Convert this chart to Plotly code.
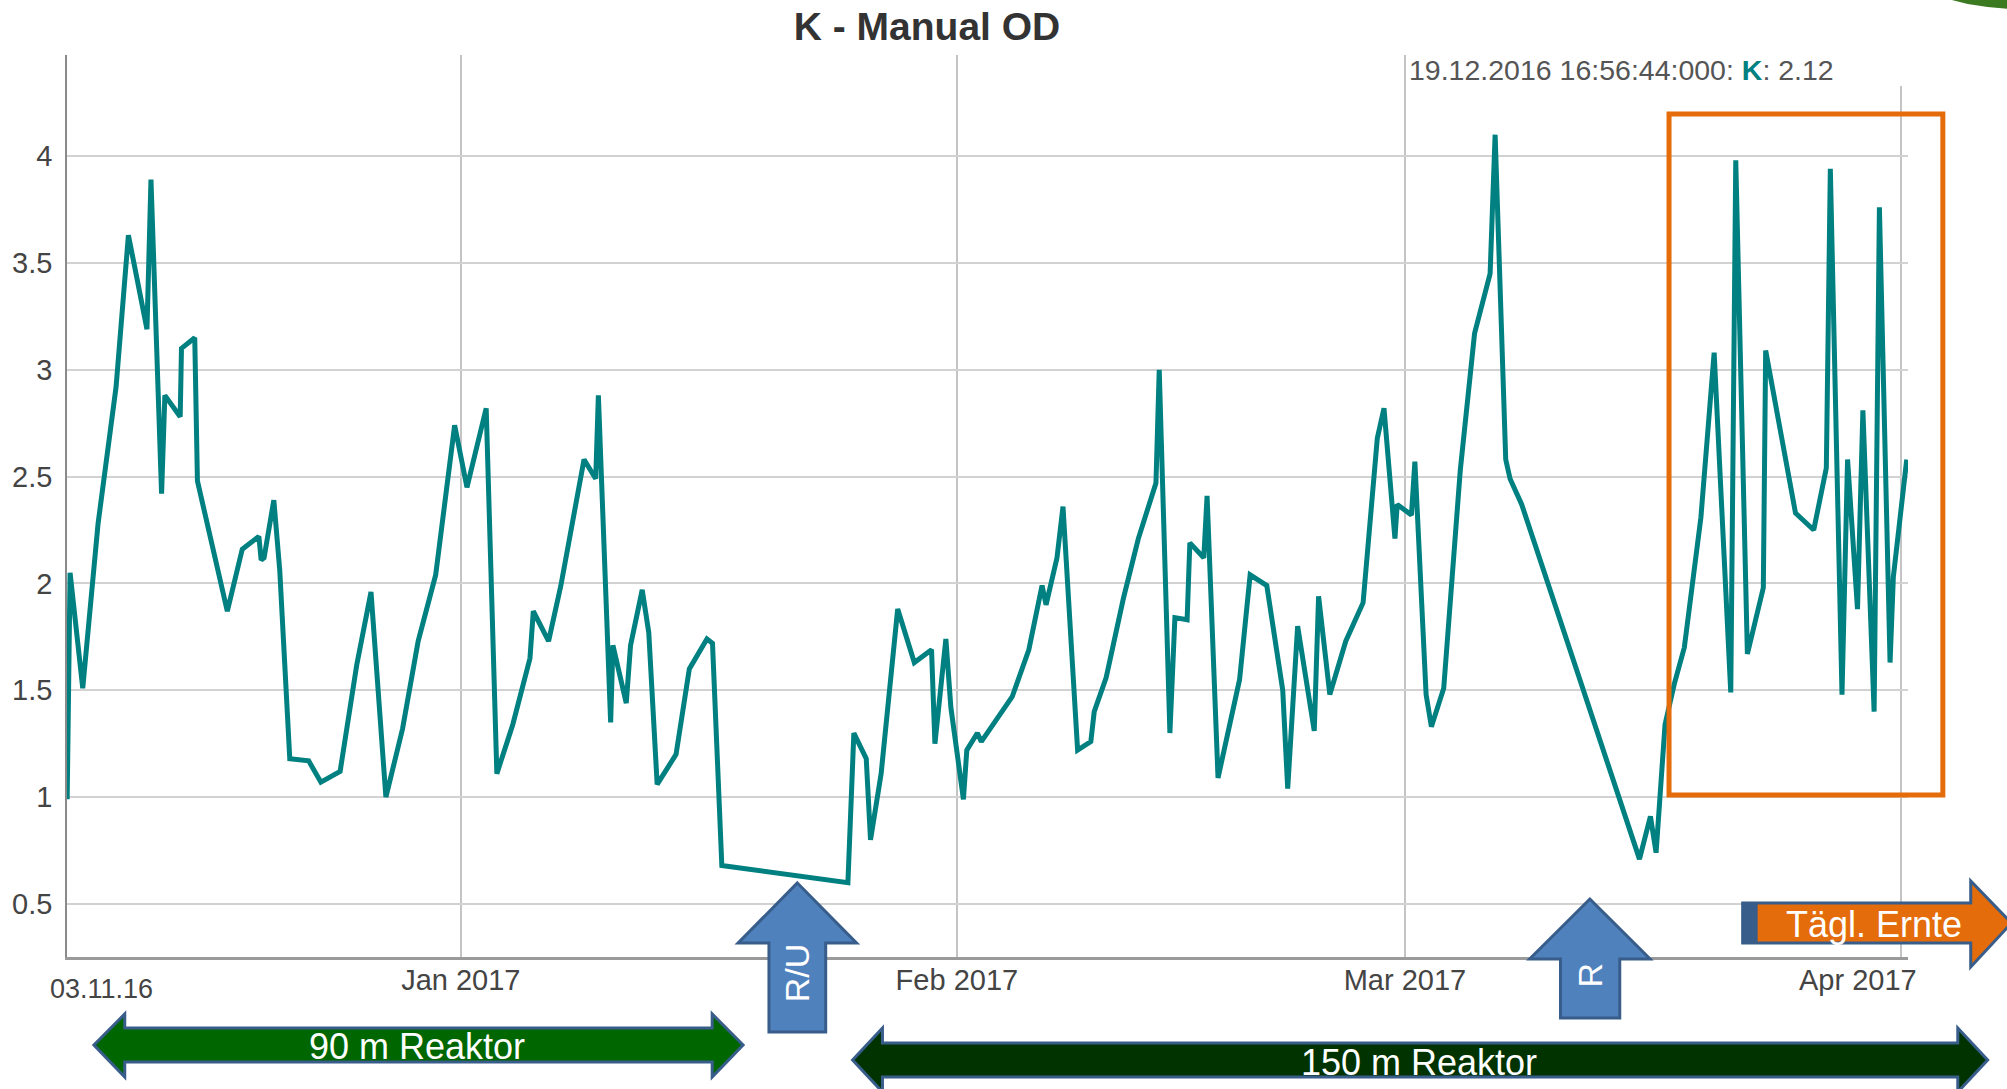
import plotly.graph_objects as go

# ---------------- data ----------------
dates = [
    "2016-12-07 09:40", "2016-12-07 14:00", "2016-12-08 09:00", "2016-12-09 08:00",
    "2016-12-10 11:00", "2016-12-11 05:30", "2016-12-12 09:20", "2016-12-12 15:20",
    "2016-12-13 07:15", "2016-12-13 12:10", "2016-12-14 11:10", "2016-12-14 13:05",
    "2016-12-15 09:00", "2016-12-15 13:00", "2016-12-17 09:50", "2016-12-18 08:15",
    "2016-12-19 09:10", "2016-12-19 12:35", "2016-12-19 16:56:44", "2016-12-20 07:35",
    "2016-12-20 16:30", "2016-12-21 07:30", "2016-12-22 11:50", "2016-12-23 06:10",
    "2016-12-24 11:00", "2016-12-25 12:00", "2016-12-26 09:20", "2016-12-27 07:40",
    "2016-12-28 08:40", "2016-12-29 08:05", "2016-12-30 10:20", "2016-12-31 14:45",
    "2017-01-01 09:15", "2017-01-02 14:05", "2017-01-03 06:05", "2017-01-04 06:00",
    "2017-01-05 07:45", "2017-01-05 12:45", "2017-01-06 11:40", "2017-01-07 06:05",
    "2017-01-08 16:50", "2017-01-09 10:20", "2017-01-09 14:20", "2017-01-10 08:45",
    "2017-01-10 12:10", "2017-01-11 08:10", "2017-01-11 14:35", "2017-01-12 08:05",
    "2017-01-12 17:55", "2017-01-13 06:30", "2017-01-14 10:50", "2017-01-15 06:45",
    "2017-01-16 09:10", "2017-01-16 17:30", "2017-01-17 07:30", "2017-01-25 04:35",
    "2017-01-25 13:30", "2017-01-26 08:05", "2017-01-26 14:30", "2017-01-27 06:25",
    "2017-01-28 07:15", "2017-01-29 08:10", "2017-01-30 10:00", "2017-01-30 15:05",
    "2017-01-31 07:30", "2017-01-31 15:00", "2017-02-01 09:50", "2017-02-01 14:55",
    "2017-02-02 06:45", "2017-02-02 12:40", "2017-02-04 11:00", "2017-02-05 11:55",
    "2017-02-06 07:45", "2017-02-06 13:45", "2017-02-07 06:10", "2017-02-07 15:10",
    "2017-02-08 13:05", "2017-02-09 08:55", "2017-02-09 14:00", "2017-02-10 07:55",
    "2017-02-11 09:45", "2017-02-12 08:10", "2017-02-13 10:35", "2017-02-13 15:30",
    "2017-02-14 07:30", "2017-02-14 15:00", "2017-02-15 09:20", "2017-02-15 13:25",
    "2017-02-16 10:20", "2017-02-16 15:15", "2017-02-17 07:40", "2017-02-18 16:00",
    "2017-02-19 07:50", "2017-02-20 08:50", "2017-02-21 08:45", "2017-02-21 16:10",
    "2017-02-22 07:05", "2017-02-23 08:00", "2017-02-23 14:30", "2017-02-24 07:20",
    "2017-02-25 07:15", "2017-02-26 09:15", "2017-02-27 06:35", "2017-02-27 16:35",
    "2017-02-28 09:00", "2017-02-28 12:25", "2017-03-01 09:45", "2017-03-01 14:55",
    "2017-03-02 07:45", "2017-03-02 15:40", "2017-03-03 10:10", "2017-03-04 11:00",
    "2017-03-05 08:25", "2017-03-06 07:45", "2017-03-06 15:15", "2017-03-07 07:10",
    "2017-03-07 13:40", "2017-03-08 07:05", "2017-03-15 15:45", "2017-03-16 08:10",
    "2017-03-16 16:40", "2017-03-17 06:05", "2017-03-17 20:00", "2017-03-18 11:00",
    "2017-03-19 11:55", "2017-03-20 07:45", "2017-03-21 08:40", "2017-03-21 16:10",
    "2017-03-22 09:35", "2017-03-23 09:30", "2017-03-23 13:00", "2017-03-25 09:45",
    "2017-03-26 13:05", "2017-03-27 08:00", "2017-03-27 14:00", "2017-03-28 07:30",
    "2017-03-28 15:50", "2017-03-29 06:45", "2017-03-29 14:50", "2017-03-30 07:40",
    "2017-03-30 15:35", "2017-03-31 07:35", "2017-03-31 12:30", "2017-04-01 08:35",
]

k_values = [
    0.99, 2.05, 1.51, 2.28, 2.92, 3.63, 3.19, 3.89,
    2.42, 2.88, 2.78, 3.10, 3.15, 2.48, 1.87, 2.16,
    2.22, 2.11, 2.12, 2.39, 2.06, 1.18, 1.17, 1.07,
    1.12, 1.62, 1.96, 1.00, 1.32, 1.73, 2.04, 2.74,
    2.45, 2.82, 1.11, 1.34, 1.65, 1.87, 1.73, 1.99,
    2.58, 2.49, 2.88, 1.35, 1.71, 1.44, 1.71, 1.97,
    1.77, 1.06, 1.20, 1.60, 1.74, 1.72, 0.68, 0.60,
    1.30, 1.18, 0.80, 1.11, 1.88, 1.63, 1.69, 1.25,
    1.74, 1.42, 0.99, 1.22, 1.30, 1.26, 1.47, 1.69,
    1.99, 1.90, 2.12, 2.36, 1.22, 1.26, 1.40, 1.56,
    1.93, 2.21, 2.47, 3.00, 1.30, 1.84, 1.83, 2.19,
    2.12, 2.41, 1.09, 1.55, 2.04, 1.99, 1.50, 1.04,
    1.80, 1.31, 1.94, 1.48, 1.73, 1.91, 2.68, 2.82,
    2.21, 2.37, 2.32, 2.57, 1.48, 1.33, 1.51, 2.53,
    3.17, 3.45, 4.10, 2.58, 2.49, 2.37, 0.71, 0.91,
    0.74, 1.34, 1.53, 1.70, 2.31, 3.08, 1.49, 3.98,
    1.67, 1.98, 3.09, 2.33, 2.25, 2.54, 3.94, 1.48,
    2.58, 1.88, 2.81, 1.40, 3.76, 1.63, 2.03, 2.58,
]

x_tick_vals = ["2017-01-01", "2017-02-01", "2017-03-01", "2017-04-01"]
x_tick_text = ["Jan 2017", "Feb 2017", "Mar 2017", ""]
y_tick_vals = [0.5, 1, 1.5, 2, 2.5, 3, 3.5, 4]
y_tick_text = ["0.5", "1", "1.5", "2", "2.5", "3", "3.5", "4"]

title_text = "K - Manual OD"
tooltip_stamp = "19.12.2016 16:56:44:000"
tooltip_series = "K"
tooltip_value = "2.12"
start_label = "03.11.16"
apr_label = "Apr 2017"

# ---------------- layout helpers (pixel -> paper) ----------------
W, H = 2007, 1089
L, R, T, B = 59, 1908, 55, 957
FONT = "Liberation Sans, Arial, sans-serif"


def px(x):
    return (x - L) / (R - L)


def py(y):
    return (B - y) / (B - T)


def poly(points):
    return "M " + " L ".join(f"{px(x):.5f},{py(y):.5f}" for x, y in points) + " Z"


fig = go.Figure()
fig.add_trace(go.Scatter(
    x=dates, y=k_values, mode="lines", name="K",
    line=dict(color="#008080", width=5),
    hoverinfo="skip",
))

shapes = []
# cover top of Apr gridline (tooltip box area)
shapes.append(dict(type="rect", xref="paper", yref="paper",
                   x0=px(1880), x1=px(1915), y0=py(86), y1=py(50),
                   fillcolor="white", line=dict(width=0), layer="above"))
# orange highlight box
shapes.append(dict(type="rect", xref="paper", yref="paper",
                   x0=px(1668), x1=px(1943), y0=py(795), y1=py(114),
                   line=dict(color="#E46C0A", width=5), fillcolor="rgba(0,0,0,0)",
                   layer="above"))
blue_edge = "#385D8A"
# R/U up arrow
shapes.append(dict(type="path", xref="paper", yref="paper", layer="above",
                   path=poly([(792.5, 883), (852, 943), (821, 943), (821, 1032),
                              (764, 1032), (764, 943), (733, 943)]),
                   fillcolor="#4F81BD", line=dict(color=blue_edge, width=3)))
# R up arrow
shapes.append(dict(type="path", xref="paper", yref="paper", layer="above",
                   path=poly([(1588.5, 899), (1649, 959), (1618.5, 959), (1618.5, 1018),
                              (1559, 1018), (1559, 959), (1528, 959)]),
                   fillcolor="#4F81BD", line=dict(color=blue_edge, width=3)))
# Tägl. Ernte right arrow
shapes.append(dict(type="path", xref="paper", yref="paper", layer="above",
                   path=poly([(1742, 903), (1971, 903), (1971, 881), (2012, 923),
                              (1971, 967), (1971, 943), (1742, 943)]),
                   fillcolor="#E46C0A", line=dict(color=blue_edge, width=3)))
shapes.append(dict(type="rect", xref="paper", yref="paper", layer="above",
                   x0=px(1741), x1=px(1757), y0=py(944), y1=py(902),
                   fillcolor=blue_edge, line=dict(width=0)))
# 90 m Reaktor double arrow
shapes.append(dict(type="path", xref="paper", yref="paper", layer="above",
                   path=poly([(86, 1045), (117, 1014), (117, 1028), (707, 1028),
                              (707, 1014), (738, 1045), (707, 1077), (707, 1062),
                              (117, 1062), (117, 1077)]),
                   fillcolor="#006600", line=dict(color=blue_edge, width=3)))
# 150 m Reaktor double arrow
shapes.append(dict(type="path", xref="paper", yref="paper", layer="above",
                   path=poly([(848, 1060), (878, 1028), (878, 1043), (1958, 1043),
                              (1958, 1028), (1988, 1060), (1958, 1092), (1958, 1077),
                              (878, 1077), (878, 1092)]),
                   fillcolor="#003300", line=dict(color=blue_edge, width=3)))
# small green leaf fragment at top-right corner
shapes.append(dict(type="path", xref="paper", yref="paper", layer="above",
                   path=poly([(1952, 0), (1968, 4), (1988, 7), (2010, 9), (2010, 0)]),
                   fillcolor="#3C7A22", line=dict(width=0)))

annotations = []


def txt(text, x, y, size, color, angle=0, xanchor="center"):
    annotations.append(dict(
        text=text,
        x=px(x), y=py(y), xref="paper", yref="paper",
        xanchor=xanchor, yanchor="middle", showarrow=False, textangle=angle,
        font=dict(family=FONT, size=size, color=color),
    ))


txt("R/U", 792.5, 973, 34, "white", angle=-90)
txt("R", 1589, 975, 34, "white", angle=-90)
txt("Tägl. Ernte", 1874, 924, 36, "white")
txt("90 m Reaktor", 411, 1046, 36, "white")
txt("150 m Reaktor", 1417, 1062, 36, "white")
txt(start_label, 94, 989, 27, "#444444")
txt(apr_label, 1858, 980, 29, "#444444")
txt(f"{tooltip_stamp}: <span style='color:#008080'><b>{tooltip_series}</b></span>: {tooltip_value}",
    1405, 70, 28.5, "#555555", xanchor="left")

fig.update_layout(
    width=W, height=H,
    margin=dict(l=L, r=W - R, t=T, b=H - B, pad=0),
    paper_bgcolor="white", plot_bgcolor="white",
    showlegend=False,
    font=dict(family=FONT, size=29, color="#444444"),
    title=dict(text=f"<b>{title_text}</b>", x=927 / W, xanchor="center",
               y=1 - 26 / H, yanchor="middle",
               font=dict(family=FONT, size=39, color="#333333")),
    xaxis=dict(
        type="date",
        range=["2016-12-07 09:24", "2017-04-01 10:29"],
        tickmode="array", tickvals=x_tick_vals, ticktext=x_tick_text,
        showgrid=True, gridcolor="#c4c4c4", gridwidth=1.5,
        showline=True, linecolor="#9a9a9a", linewidth=2.5,
        zeroline=False,
        ticks="",
        ticklabelstandoff=-5,
        tickfont=dict(family=FONT, size=29, color="#444444"),
    ),
    yaxis=dict(
        range=[0.252, 4.473],
        tickmode="array", tickvals=y_tick_vals, ticktext=y_tick_text,
        showgrid=True, gridcolor="#d2d2d2", gridwidth=2,
        showline=True, linecolor="#8a8a8a", linewidth=1.5,
        zeroline=False,
        ticks="outside", ticklen=7, tickcolor="rgba(0,0,0,0)",
        tickfont=dict(family=FONT, size=29, color="#444444"),
    ),
    shapes=shapes,
    annotations=annotations,
)

fig.write_html(
    "out.html",
    config={"displayModeBar": False},
    post_script="document.body.style.margin='0';document.body.style.overflow='hidden';",
)
